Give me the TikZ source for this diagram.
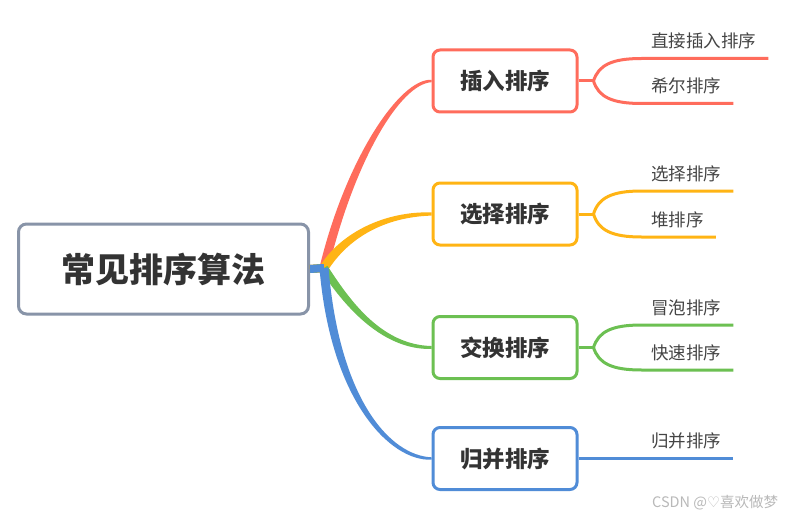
\documentclass[tikz,border=0pt]{standalone}
\usepackage{fontspec}
\newfontfamily\cjk{Noto Sans CJK SC}
\newfontfamily\dejavu{DejaVu Sans}
\usetikzlibrary{calc}
\definecolor{cred}{RGB}{255,108,92}
\definecolor{cyel}{RGB}{255,180,20}
\definecolor{cgrn}{RGB}{108,192,82}
\definecolor{cblu}{RGB}{80,140,215}
\definecolor{cgray}{RGB}{136,148,168}
\definecolor{ctext}{RGB}{51,51,51}
\definecolor{cleaf}{RGB}{68,68,68}
\definecolor{cmark}{RGB}{185,185,185}
% color, start, c1, c2, end, half width start, half width end, half width at c2
\newcommand\taperlink[8]{%
  \coordinate (tA) at ($(#2)!#6!90:(#3)$);
  \coordinate (tB) at ($(#2)!#6!-90:(#3)$);
  \coordinate (tC) at ($(#5)!#7!-90:(#4)$);
  \coordinate (tD) at ($(#5)!#7!90:(#4)$);
  \coordinate (tE) at ($(#5)!#8!-90:(#4)$);
  \coordinate (tF) at ($(#5)!#8!90:(#4)$);
  \fill[#1] (tA) .. controls ($(#3)+(tA)-(#2)$) and ($(#4)+(tE)-(#5)$) .. (tC)
    -- (tD) .. controls ($(#4)+(tF)-(#5)$) and ($(#3)+(tB)-(#2)$) .. (tB) -- cycle;
}
% color, fork coordinate, dy, leaf node
\newcommand\forkleaf[4]{%
  \draw[leafline,#1] (#2) .. controls ($(#2)+(5,#3*0.7)$) and ($(#2)+(18,#3)$) .. ($(#2)+(48,#3)$) -- ($(#4.base east)+(12,11)$);
}
\tikzset{
  rootbox/.style={draw=cgray, line width=3pt, rounded corners=8pt, fill=white,
    minimum width=290pt, minimum height=90pt, inner sep=0pt,
    font=\cjk\bfseries\fontsize{34}{34}\selectfont, text=ctext},
  branchbox/.style={line width=3pt, rounded corners=7pt, fill=white,
    minimum width=144pt, minimum height=62pt, inner sep=0pt,
    font=\cjk\bfseries\fontsize{22.5}{22.5}\selectfont, text=ctext},
  leaf/.style={anchor=base west, inner sep=0pt,
    font=\cjk\fontsize{17.5}{17.5}\selectfont, text=cleaf},
  leafline/.style={line width=3pt},
  stub/.style={line width=8pt},
}
\begin{document}
\begin{tikzpicture}[x=1pt,y=-1pt]
\useasboundingbox[fill=white] (0,0) rectangle (787,516);

\node[rootbox] (root) at (163.5,269) {常见排序算法};
\coordinate (hub) at ($(root.east)+(14,-1)$);

\node[branchbox, draw=cred] (b1) at (505,81) {插入排序};
\node[branchbox, draw=cyel] (b2) at (505,214) {选择排序};
\node[branchbox, draw=cgrn] (b3) at (505,347.5) {交换排序};
\node[branchbox, draw=cblu] (b4) at (505,458.5) {归并排序};

% main connectors
\draw[stub,cred] (root.east) -- (hub);
\draw[stub,cyel] (root.east) -- (hub);
\draw[stub,cgrn] (root.east) -- (hub);
\taperlink{cred}{hub}{350,160}{400,81}{b1.west}{4.5pt}{1.2pt}{3pt}
\taperlink{cyel}{hub}{345,235}{385,214}{b2.west}{4.5pt}{1.6pt}{3pt}
\taperlink{cgrn}{hub}{345,300}{380,347.5}{b3.west}{4pt}{1.5pt}{2.6pt}
\taperlink{cblu}{hub}{335,400}{390,458.5}{b4.west}{4.5pt}{1.2pt}{3pt}
\draw[stub,cblu] (root.east) -- (hub);

% leaves
\node[leaf] (l1) at (651,47.5) {直接插入排序};
\node[leaf] (l2) at (651,92.5) {希尔排序};
\node[leaf] (l3) at (651,180) {选择排序};
\node[leaf] (l4) at (651,226) {堆排序};
\node[leaf] (l5) at (651,314) {冒泡排序};
\node[leaf] (l6) at (651,359) {快速排序};
\node[leaf] (l7) at (651,447.5) {归并排序};

\draw[leafline,cred] (b1.east) -- ++(15,0) coordinate (f1);
\forkleaf{cred}{f1}{-22.5}{l1}
\forkleaf{cred}{f1}{22.5}{l2}
\draw[leafline,cyel] (b2.east) -- ++(15,0) coordinate (f2);
\forkleaf{cyel}{f2}{-23}{l3}
\forkleaf{cyel}{f2}{23}{l4}
\draw[leafline,cgrn] (b3.east) -- ++(15,0) coordinate (f3);
\forkleaf{cgrn}{f3}{-22.5}{l5}
\forkleaf{cgrn}{f3}{22.5}{l6}
\draw[leafline,cblu] (b4.east) -- ($(l7.base east)+(12,11)$);

% watermark
\node[anchor=base west, inner sep=0pt, text=cmark, font=\cjk\fontsize{14.5}{14.5}\selectfont] (wm) at (652,507.5) {CSDN @{\dejavu ♡}喜欢做梦};
\end{tikzpicture}
\end{document}
